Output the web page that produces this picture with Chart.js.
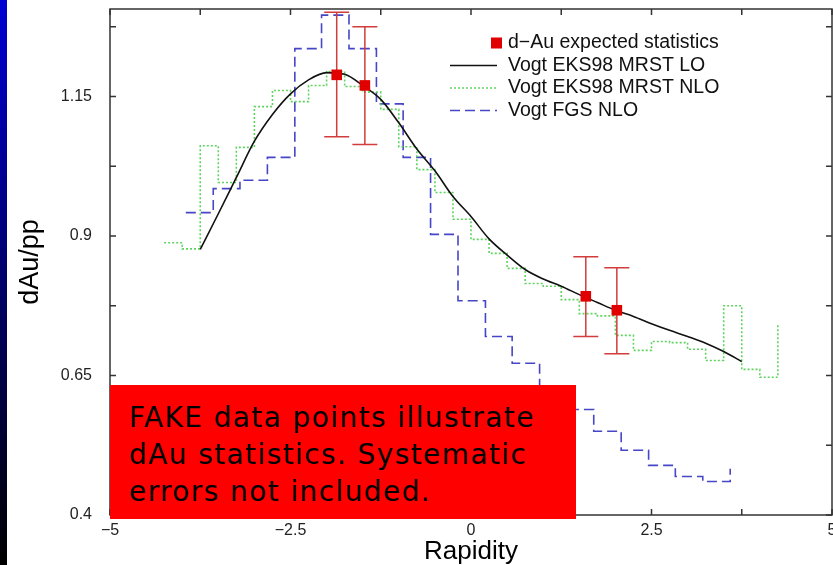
<!DOCTYPE html>
<html>
<head>
<meta charset="utf-8">
<script src="https://cdn.jsdelivr.net/npm/chart.js@4.4.1/dist/chart.umd.min.js"></script>
<style>
  html, body { margin: 0; padding: 0; background: #fff; }
  #wrap { position: relative; width: 833px; height: 565px; overflow: hidden; }
  #strip { position: absolute; left: 0; top: 0; width: 7px; height: 565px; background: linear-gradient(#0000d2, #000000); z-index: 1; }
  canvas { position: absolute; left: 0; top: 0; }
  #fake {
    position: absolute; left: 110px; top: 385px; width: 466px; height: 134px;
    box-sizing: border-box; padding: 14px 0 0 19px;
    background: #ff0000; color: #000;
    font: 28px/37px "DejaVu Sans", sans-serif; letter-spacing: 1.4px;
  }
</style>
</head>
<body>
<div id="wrap">
  <div id="strip"></div>
  <!-- canvas is a bit wider than the page so the "5" label gets cut like in the slide -->
  <canvas id="chart" width="845" height="565"></canvas>
  <div id="fake">FAKE data points illustrate<br>dAu statistics. Systematic<br>errors not included.</div>
</div>
<script>
// Vogt EKS98 MRST LO (smooth curve)
const loX = [-3.75, -3.5, -3.25, -3, -2.75, -2.5, -2.25, -2, -1.75, -1.5, -1.25, -1, -0.75, -0.5, -0.25, 0,
             0.25, 0.5, 0.75, 1, 1.25, 1.5, 1.75, 2, 2.25, 2.5, 2.75, 3, 3.25, 3.5, 3.75];
const loY = [0.876, 0.94, 1.005, 1.07, 1.118, 1.155, 1.18, 1.193, 1.19, 1.17, 1.145, 1.103, 1.056, 1.017, 0.971, 0.935,
             0.895, 0.866, 0.84, 0.823, 0.81, 0.795, 0.781, 0.767, 0.756, 0.743, 0.731, 0.72, 0.708, 0.693, 0.675];

// Vogt EKS98 MRST NLO (histogram, bin left edges + closing edge)
const nloX = [-4.25, -4, -3.75, -3.5, -3.25, -3, -2.75, -2.5, -2.25, -2, -1.75, -1.5, -1.25, -1, -0.75, -0.5, -0.25,
              0, 0.25, 0.5, 0.75, 1, 1.25, 1.5, 1.75, 2, 2.25, 2.5, 2.75, 3, 3.25, 3.5, 3.75, 4, 4.25];
const nloY = [0.888, 0.877, 1.062, 0.996, 1.059, 1.132, 1.161, 1.141, 1.17, 1.195, 1.168, 1.158, 1.127, 1.06, 1.019, 0.978, 0.93,
              0.894, 0.869, 0.842, 0.815, 0.81, 0.786, 0.761, 0.757, 0.722, 0.695, 0.711, 0.709, 0.697, 0.677, 0.775, 0.661, 0.647, 0.741];

// Vogt FGS NLO (histogram)
const fgsX = [-3.95, -3.57, -3.2, -2.82, -2.44, -2.07, -1.69, -1.31, -0.94, -0.56, -0.18,
              0.2, 0.57, 0.95, 1.33, 1.7, 2.08, 2.46, 2.83, 3.21, 3.59];
const fgsY = [0.942, 0.985, 1.0, 1.041, 1.236, 1.296, 1.236, 1.137, 1.041, 0.903, 0.784,
              0.72, 0.672, 0.62, 0.589, 0.55, 0.516, 0.489, 0.469, 0.46, 0.483];

// d-Au expected statistics (fake points)
const ptX = [-1.86, -1.47, 1.59, 2.02];
const ptY = [1.189, 1.17, 0.792, 0.767];
const ptLow = [1.078, 1.064, 0.72, 0.689];
const ptHigh = [1.301, 1.275, 0.863, 0.843];

const xLabelTicks = [-5, -2.5, 0, 2.5, 5];
const yLabelTicks = [0.4, 0.65, 0.9, 1.15];
const xTickMarks = [-5, -3.75, -2.5, -1.25, 0, 1.25, 2.5, 3.75, 5];
const yTickMarks = [0.4, 0.525, 0.65, 0.775, 0.9, 1.025, 1.15, 1.275];

const toPts = (xs, ys) => xs.map((x, i) => ({ x: x, y: ys[i] }));
const fmt = v => (v < 0 ? '\u2212' + Math.abs(v) : String(v));

Chart.defaults.font.family = '"Liberation Sans", Arial, sans-serif';

// error bars go in just before the red squares
const errorBars = {
  id: 'errorBars',
  beforeDatasetDraw(chart, args) {
    if (args.index !== 0) return;
    const ctx = chart.ctx, xs = chart.scales.x, ys = chart.scales.y;
    ctx.save();
    ctx.strokeStyle = '#d23c3c';
    ctx.lineWidth = 1.5;
    ptX.forEach((x, i) => {
      const px = xs.getPixelForValue(x);
      const lo = ys.getPixelForValue(ptLow[i]);
      const hi = ys.getPixelForValue(ptHigh[i]);
      ctx.beginPath();
      ctx.moveTo(px, lo); ctx.lineTo(px, hi);
      ctx.moveTo(px - 12.5, lo); ctx.lineTo(px + 12.5, lo);
      ctx.moveTo(px - 12.5, hi); ctx.lineTo(px + 12.5, hi);
      ctx.stroke();
    });
    ctx.restore();
  }
};

// box round the plot with inward ticks on all four sides
const frame = {
  id: 'frame',
  afterDatasetsDraw(chart) {
    const ctx = chart.ctx, a = chart.chartArea, xs = chart.scales.x, ys = chart.scales.y;
    ctx.save();
    ctx.strokeStyle = '#333';
    ctx.lineWidth = 1.5;
    ctx.strokeRect(a.left, a.top, a.right - a.left, a.bottom - a.top);
    ctx.beginPath();
    xTickMarks.forEach(v => {
      const p = xs.getPixelForValue(v);
      ctx.moveTo(p, a.bottom); ctx.lineTo(p, a.bottom - 6);
      ctx.moveTo(p, a.top); ctx.lineTo(p, a.top + 6);
    });
    yTickMarks.forEach(v => {
      const p = ys.getPixelForValue(v);
      ctx.moveTo(a.left, p); ctx.lineTo(a.left + 6, p);
      ctx.moveTo(a.right, p); ctx.lineTo(a.right - 6, p);
    });
    ctx.stroke();
    ctx.restore();
  }
};

const legendBox = {
  id: 'legendBox',
  afterDraw(chart) {
    const ctx = chart.ctx, a = chart.chartArea;
    const x0 = a.left + 340, x1 = x0 + 47, tx = x1 + 11;
    let y = a.top + 34;
    ctx.save();
    ctx.font = '19.5px "Liberation Sans", Arial, sans-serif';
    ctx.textBaseline = 'middle';
    chart.data.datasets.forEach(ds => {
      if (ds.showLine) {
        ctx.strokeStyle = ds.borderColor;
        ctx.lineWidth = ds.borderWidth;
        ctx.setLineDash(ds.borderDash || []);
        ctx.beginPath();
        ctx.moveTo(x0, y); ctx.lineTo(x1, y);
        ctx.stroke();
        ctx.setLineDash([]);
      } else {
        ctx.fillStyle = ds.backgroundColor;
        ctx.fillRect(x1 - 6, y - 5.5, 11, 11);
      }
      ctx.fillStyle = '#111';
      ctx.fillText(ds.label, tx, y);
      y += 22.5;
    });
    ctx.restore();
  }
};

new Chart(document.getElementById('chart'), {
  type: 'scatter',
  data: {
    datasets: [
      {
        label: 'd\u2212Au expected statistics',
        data: toPts(ptX, ptY),
        showLine: false,
        pointStyle: 'rect',
        pointRadius: 7.5,
        backgroundColor: '#e00000',
        borderColor: '#e00000',
        borderWidth: 0
      },
      {
        label: 'Vogt EKS98 MRST LO',
        data: toPts(loX, loY),
        showLine: true,
        pointRadius: 0,
        borderColor: '#111',
        borderWidth: 1.6,
        cubicInterpolationMode: 'monotone'
      },
      {
        label: 'Vogt EKS98 MRST NLO',
        data: toPts(nloX, nloY),
        showLine: true,
        stepped: 'before',
        pointRadius: 0,
        borderColor: '#5fd35f',
        borderWidth: 1.6,
        borderDash: [2, 2]
      },
      {
        label: 'Vogt FGS NLO',
        data: toPts(fgsX, fgsY),
        showLine: true,
        stepped: 'before',
        pointRadius: 0,
        borderColor: '#4646c8',
        borderWidth: 1.6,
        borderDash: [10, 5]
      }
    ]
  },
  options: {
    responsive: false,
    animation: false,
    layout: { padding: { left: 0, top: 9, right: 13, bottom: 0 } },
    plugins: { legend: { display: false }, tooltip: { enabled: false } },
    scales: {
      x: {
        type: 'linear',
        min: -5,
        max: 5,
        grid: { display: false, drawTicks: false },
        border: { display: false },
        afterBuildTicks: s => { s.ticks = xLabelTicks.map(v => ({ value: v })); },
        afterFit: s => { s.height = 50; s.paddingLeft = 0; s.paddingRight = 0; },
        ticks: { color: '#222', font: { size: 16 }, padding: 6, maxRotation: 0, callback: fmt },
        title: { display: true, text: 'Rapidity', color: '#000', font: { size: 26, lineHeight: 1 }, padding: { top: 0, bottom: 0 } }
      },
      y: {
        min: 0.4,
        max: 1.307,
        grid: { display: false, drawTicks: false },
        border: { display: false },
        afterBuildTicks: s => { s.ticks = yLabelTicks.map(v => ({ value: v })); },
        afterFit: s => { s.width = 110; s.paddingTop = 0; s.paddingBottom = 0; },
        ticks: { color: '#222', font: { size: 16 }, padding: 18, callback: fmt },
        title: { display: true, text: 'dAu/pp', color: '#000', font: { size: 27, lineHeight: 1.2 }, padding: { top: 14, bottom: 0 } }
      }
    }
  },
  plugins: [errorBars, frame, legendBox]
});
</script>
</body>
</html>
